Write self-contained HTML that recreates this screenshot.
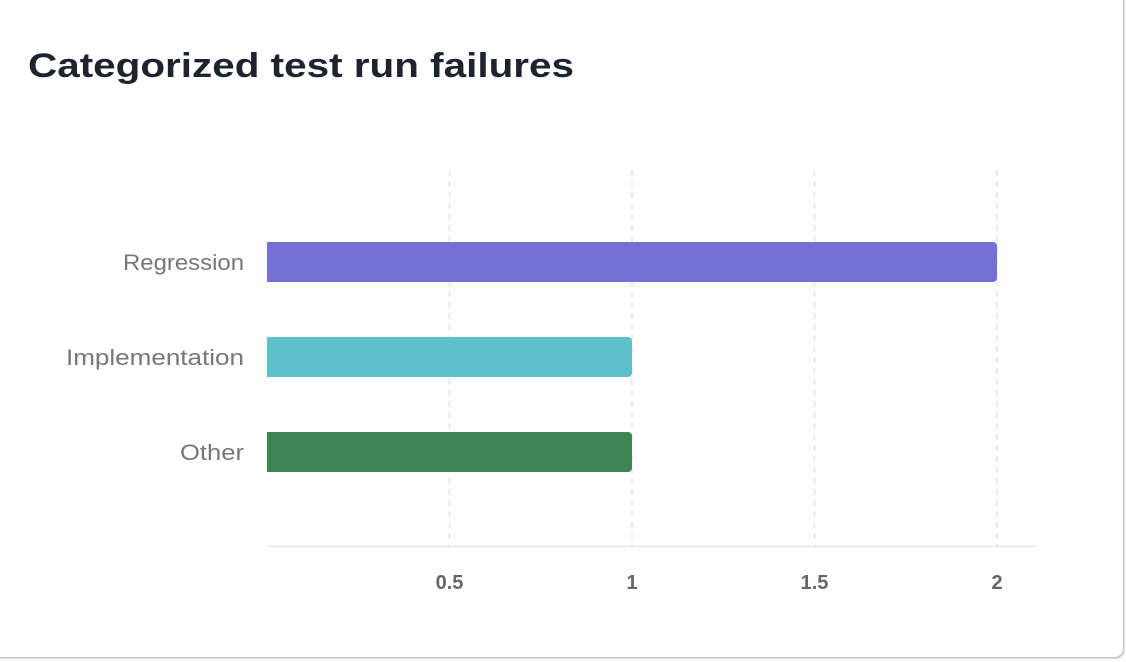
<!DOCTYPE html>
<html><head><style>
html,body{margin:0;padding:0;background:#fff;}
body{width:1126px;height:662px;overflow:hidden;position:relative;font-family:"Liberation Sans",sans-serif;}
.card{position:absolute;left:-4px;top:-4px;width:1127px;height:661px;border-radius:0 0 8px 0;box-shadow:1px 1px 2px rgba(0,0,0,0.35);background:#fff;}
</style></head><body>
<div class="card"></div>
<svg width="1126" height="662" style="position:absolute;left:0;top:0">
<text x="28" y="77" font-size="34" font-weight="bold" fill="#1f2330" textLength="546" lengthAdjust="spacingAndGlyphs">Categorized test run failures</text>
<g stroke="#e4e4e8" stroke-width="1.5" stroke-dasharray="6,5">
<line x1="449.5" y1="170" x2="449.5" y2="546"/>
<line x1="632" y1="170" x2="632" y2="546"/>
<line x1="814.5" y1="170" x2="814.5" y2="546"/>
<line x1="997" y1="170" x2="997" y2="546"/>
</g>
<line x1="267" y1="546.5" x2="1037" y2="546.5" stroke="#e6e6ea" stroke-width="1.5"/>
<path d="M267 242 H993 a4 4 0 0 1 4 4 V278 a4 4 0 0 1 -4 4 H267Z" fill="#7570d6"/>
<path d="M267 337 H628 a4 4 0 0 1 4 4 V373 a4 4 0 0 1 -4 4 H267Z" fill="#5cc1cb"/>
<path d="M267 432 H628 a4 4 0 0 1 4 4 V468 a4 4 0 0 1 -4 4 H267Z" fill="#3d8452"/>
<g font-size="22" fill="#777">
<text x="123" y="270" textLength="121" lengthAdjust="spacingAndGlyphs">Regression</text>
<text x="66" y="365" textLength="178" lengthAdjust="spacingAndGlyphs">Implementation</text>
<text x="180" y="460" textLength="64" lengthAdjust="spacingAndGlyphs">Other</text>
</g>
<g font-size="20" fill="#666" font-weight="bold" text-anchor="middle">
<text x="449.5" y="589">0.5</text>
<text x="632" y="589">1</text>
<text x="814.5" y="589">1.5</text>
<text x="997" y="589">2</text>
</g>
</svg>
</body></html>
